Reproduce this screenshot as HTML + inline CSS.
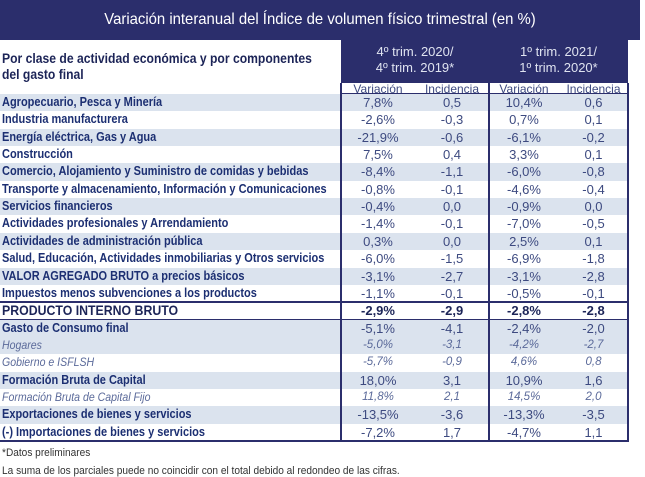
<!DOCTYPE html>
<html><head><meta charset="utf-8"><style>
body{margin:0;width:645px;height:477px;background:#fff;position:relative;overflow:hidden;font-family:"Liberation Sans",sans-serif;}
.a{position:absolute}
#title{left:0;top:0;width:640px;height:40px;background:#2b2e6c;}
#tt{left:0;top:0;width:640px;color:#fff;font-size:16px;text-align:center;line-height:40px;transform:scaleX(0.93);}
#hdr{left:341px;top:40px;width:287px;height:43px;background:#2b2e6c;}
.hd{color:#dfe3f0;font-size:13px;text-align:center;line-height:16px;top:44px;}
#lh{left:2px;top:51px;font-weight:bold;font-size:13.5px;color:#1c2457;line-height:16px;transform:scaleX(0.9);transform-origin:left top;white-space:nowrap}
.sub{top:82px;font-size:12px;color:#3d4a80;text-align:center;text-decoration:underline;}
.row{left:0;width:628px;height:17.3px;}
.sh{background:#dbe3ee;}
.c{position:absolute;top:0;line-height:17px;font-size:13px;color:#3d4a80;text-align:center}
.l{position:absolute;left:2px;top:0;line-height:17px;font-size:12.5px;font-weight:bold;color:#1c2f72;white-space:nowrap;transform:scaleX(0.88);transform-origin:left center}
.it .l{font-weight:normal;font-style:italic;color:#5b6a9a;font-size:12px}
.it .c{font-style:italic;font-size:11.5px;color:#5b6a9a}
.pib .l{color:#1c2457;font-size:14px}
.pib .c{font-weight:bold;color:#1c2457}
.v{position:absolute;background:#2b2e6c;width:2px;top:83px;height:358px}
.foot{left:2px;font-size:11px;color:#333;white-space:nowrap;transform:scaleX(0.92);transform-origin:left top}
</style></head><body>
<div class="a" id="title"></div>
<div class="a" id="tt">Variación interanual del Índice de volumen físico trimestral (en %)</div>
<div class="a" id="hdr"></div>
<div class="a hd" style="left:341px;width:148px">4º trim. 2020/<br>4º trim. 2019*</div>
<div class="a hd" style="left:489px;width:139px">1º trim. 2021/<br>1º trim. 2020*</div>
<div class="a" id="lh">Por clase de actividad económica y por componentes<br>del gasto final</div>
<div class="a sub" style="left:341px;width:74px">Variación</div>
<div class="a sub" style="left:415px;width:74px">Incidencia</div>
<div class="a sub" style="left:489px;width:70px">Variación</div>
<div class="a sub" style="left:559px;width:69px">Incidencia</div>
<div id="rows"></div>
<div class="v" style="left:340px"></div>
<div class="v" style="left:488px"></div>
<div class="v" style="left:627px"></div>
<div class="a" style="left:0;top:440px;width:629px;height:2px;background:#2b2e6c"></div>
<div class="a" style="left:341px;top:93px;width:287px;height:1px;background:#2b2e6c"></div>
<div class="a foot" style="top:447px">*Datos preliminares</div>
<div class="a foot" style="top:465px">La suma de los parciales puede no coincidir con el total debido al redondeo de las cifras.</div>
<script>
var d=[
["Agropecuario, Pesca y Minería","7,8%","0,5","10,4%","0,6"],
["Industria manufacturera","-2,6%","-0,3","0,7%","0,1"],
["Energía eléctrica, Gas y Agua","-21,9%","-0,6","-6,1%","-0,2"],
["Construcción","7,5%","0,4","3,3%","0,1"],
["Comercio,  Alojamiento y Suministro de comidas y bebidas","-8,4%","-1,1","-6,0%","-0,8"],
["Transporte y almacenamiento, Información y Comunicaciones","-0,8%","-0,1","-4,6%","-0,4"],
["Servicios financieros","-0,4%","0,0","-0,9%","0,0"],
["Actividades profesionales y Arrendamiento","-1,4%","-0,1","-7,0%","-0,5"],
["Actividades de administración pública","0,3%","0,0","2,5%","0,1"],
["Salud, Educación, Actividades inmobiliarias y Otros servicios","-6,0%","-1,5","-6,9%","-1,8"],
["VALOR AGREGADO BRUTO a precios básicos","-3,1%","-2,7","-3,1%","-2,8"],
["Impuestos menos subvenciones a los productos","-1,1%","-0,1","-0,5%","-0,1"],
["PRODUCTO INTERNO BRUTO","-2,9%","-2,9","-2,8%","-2,8","pib"],
["Gasto de Consumo final","-5,1%","-4,1","-2,4%","-2,0"],
["Hogares","-5,0%","-3,1","-4,2%","-2,7","it"],
["Gobierno e ISFLSH","-5,7%","-0,9","4,6%","0,8","it"],
["Formación Bruta de Capital","18,0%","3,1","10,9%","1,6"],
["Formación Bruta de Capital Fijo","11,8%","2,1","14,5%","2,0","it"],
["Exportaciones de bienes y servicios","-13,5%","-3,6","-13,3%","-3,5"],
["(-) Importaciones de bienes y servicios","-7,2%","1,7","-4,7%","1,1"]];
var xs=[[341,74],[415,74],[489,70],[559,69]],h="";
d.forEach(function(r,i){var t=94+i*17.35;var cls="a row"+(r[5]?" "+r[5]:"")+(i%2==0&&r[5]!="pib"?" sh":"");
if(i==13)cls="a row sh";
h+='<div class="'+cls+'" style="top:'+t+'px"><span class="l">'+r[0]+'</span>';
for(var k=0;k<4;k++)h+='<span class="c" style="left:'+xs[k][0]+'px;width:'+xs[k][1]+'px">'+r[k+1]+'</span>';
h+='</div>';
if(r[5]=="pib"){h+='<div class="a" style="left:0;top:'+(t-1)+'px;width:628px;height:2px;background:#2b2e6c"></div><div class="a" style="left:0;top:'+(t+16.5)+'px;width:628px;height:2px;background:#2b2e6c"></div>';}
});
document.getElementById("rows").innerHTML=h;
</script>
</body></html>
